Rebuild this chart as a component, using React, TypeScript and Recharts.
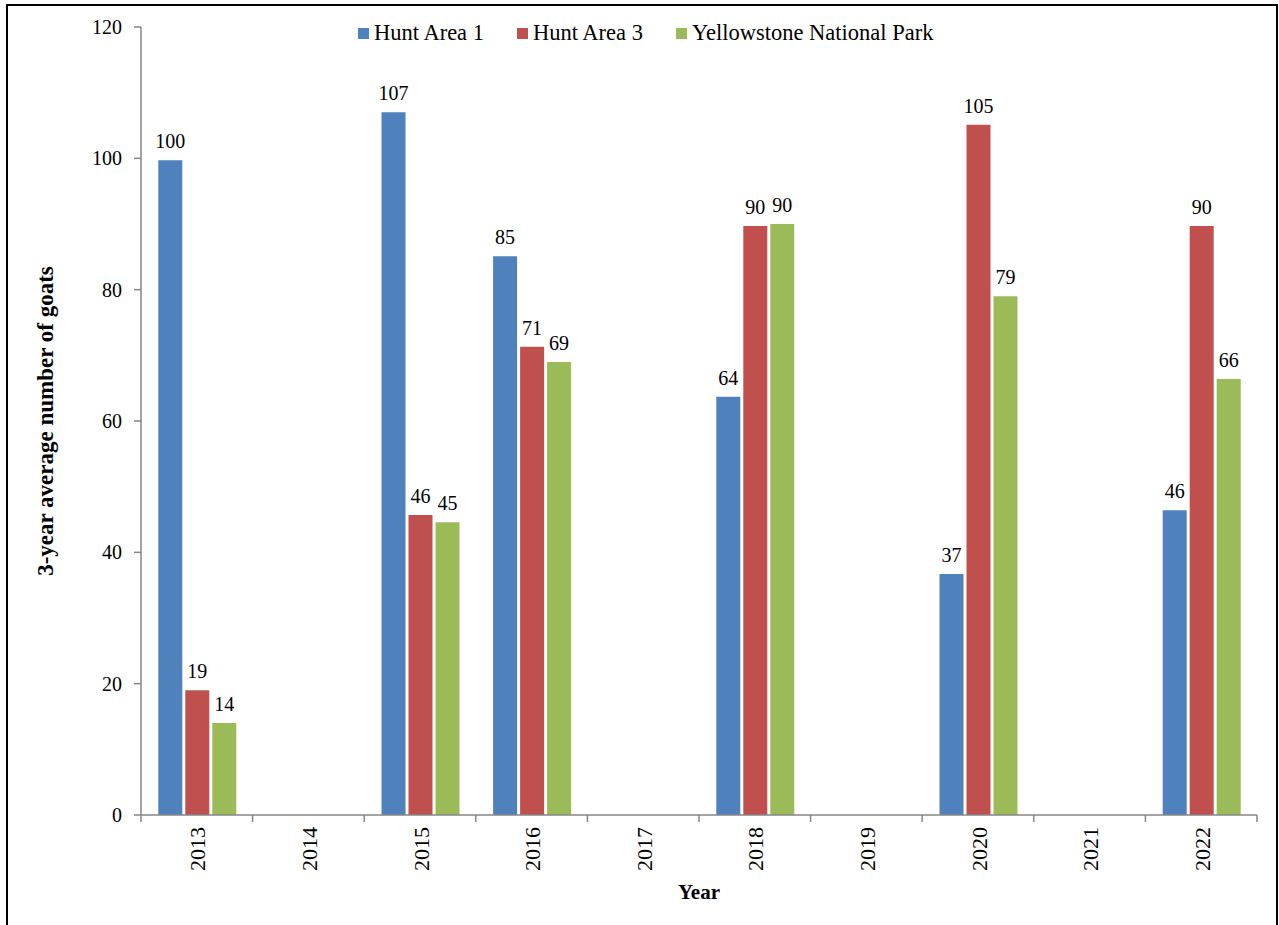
import { BarChart, Bar, XAxis, YAxis, Legend, LabelList } from 'recharts';

const years = ['2013', '2014', '2015', '2016', '2017', '2018', '2019', '2020', '2021', '2022'];
const huntArea1 = [99.7, null, 107, 85.1, null, 63.7, null, 36.7, null, 46.4];
const huntArea3 = [19, null, 45.7, 71.3, null, 89.7, null, 105.1, null, 89.7];
const yellowstone = [14, null, 44.6, 69, null, 90, null, 79, null, 66.4];
const yTicks = [0, 20, 40, 60, 80, 100, 120];

const seriesNames = ['Hunt Area 1', 'Hunt Area 3', 'Yellowstone National Park'];
const seriesColors = ['#4F81BD', '#C0504D', '#9BBB59'];

const data = years.map((year, i) => ({
  year,
  a1: huntArea1[i],
  a3: huntArea3[i],
  ynp: yellowstone[i],
}));

const FONT = '"Liberation Serif", "Times New Roman", serif';
const AXIS = '#868686';
const PLOT_LEFT = 141;
const PLOT_RIGHT = 1257;
const band = (PLOT_RIGHT - PLOT_LEFT) / years.length;

// year ticks sit between categories, labels are rotated in the middle
function YearTick(props: any) {
  const { x, y, payload, index } = props;
  return (
    <g>
      {index === 0 && (
        <line x1={x - band / 2} x2={x - band / 2} y1={y} y2={y + 7} stroke={AXIS} strokeWidth={1.5} />
      )}
      <line x1={x + band / 2} x2={x + band / 2} y1={y} y2={y + 7} stroke={AXIS} strokeWidth={1.5} />
      <text
        transform={`translate(${x + 1},${y + 12}) rotate(-90)`}
        textAnchor="end"
        dominantBaseline="central"
        fontSize={22}
        fontFamily={FONT}
        fill="#000"
      >
        {payload.value}
      </text>
    </g>
  );
}

function LegendBox() {
  return (
    <div style={{ display: 'flex', alignItems: 'center', fontFamily: FONT, fontSize: 22.5, color: '#000', lineHeight: '26px' }}>
      {seriesNames.map((name, i) => (
        <div key={name} style={{ display: 'flex', alignItems: 'center', marginRight: 33 }}>
          <span style={{ width: 11, height: 11, background: seriesColors[i], marginRight: 5, display: 'inline-block' }} />
          <span>{name}</span>
        </div>
      ))}
    </div>
  );
}

const fmt = (v: any) => (v == null ? '' : Math.round(Number(v)));

export default function App() {
  return (
    <div style={{ position: 'absolute', left: 0, top: 0, width: 1279, height: 925, overflow: 'hidden', background: '#fff' }}>
      <div
        style={{
          position: 'absolute', left: 6, top: 4, width: 1272, height: 1000,
          border: '2px solid #000', boxSizing: 'border-box',
        }}
      />
      <BarChart
        width={1279}
        height={925}
        data={data}
        margin={{ top: 27, right: 22, bottom: 0, left: 30 }}
        barCategoryGap="15.5%"
        barGap={3}
        style={{ fontFamily: FONT }}
      >
        <XAxis
          dataKey="year"
          height={110}
          interval={0}
          tickLine={false}
          tickSize={0}
          tickMargin={0}
          tick={<YearTick />}
          axisLine={{ stroke: AXIS, strokeWidth: 1.5 }}
          label={{ value: 'Year', position: 'insideBottom', offset: 26, fontSize: 21, fontWeight: 'bold', fill: '#000', fontFamily: FONT }}
        />
        <YAxis
          width={111}
          domain={[0, 120]}
          ticks={yTicks}
          interval={0}
          tickSize={7}
          tickMargin={12}
          tick={{ fontSize: 20, fill: '#000', fontFamily: FONT }}
          tickLine={{ stroke: AXIS, strokeWidth: 1.5 }}
          axisLine={{ stroke: AXIS, strokeWidth: 1.5 }}
          label={{
            value: '3-year average number of goats',
            angle: -90,
            position: 'insideLeft',
            offset: 15,
            fontSize: 23,
            fontWeight: 'bold',
            fill: '#000',
            fontFamily: FONT,
            style: { textAnchor: 'middle' },
          }}
        />
        <Legend
          layout="horizontal"
          verticalAlign="middle"
          content={<LegendBox />}
          wrapperStyle={{ top: 20, left: 358, width: 'auto' }}
        />
        <Bar dataKey="a1" name={seriesNames[0]} fill={seriesColors[0]} isAnimationActive={false}>
          <LabelList dataKey="a1" position="top" offset={12} formatter={fmt} fontSize={20} fill="#000" fontFamily={FONT} />
        </Bar>
        <Bar dataKey="a3" name={seriesNames[1]} fill={seriesColors[1]} isAnimationActive={false}>
          <LabelList dataKey="a3" position="top" offset={12} formatter={fmt} fontSize={20} fill="#000" fontFamily={FONT} />
        </Bar>
        <Bar dataKey="ynp" name={seriesNames[2]} fill={seriesColors[2]} isAnimationActive={false}>
          <LabelList dataKey="ynp" position="top" offset={12} formatter={fmt} fontSize={20} fill="#000" fontFamily={FONT} />
        </Bar>
      </BarChart>
    </div>
  );
}
